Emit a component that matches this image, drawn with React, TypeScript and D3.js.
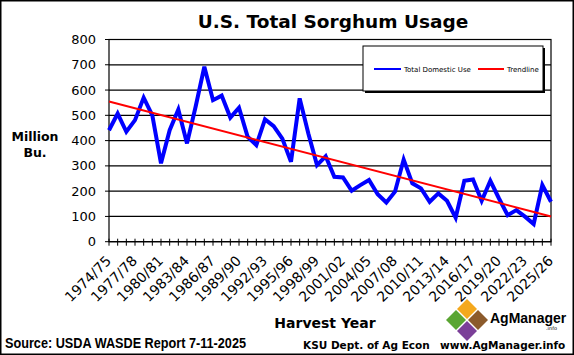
import React from "react";
import * as d3 from "d3";

const years: string[] = [];
for (let y = 1974; y <= 2025; y++) years.push(`${y}/${String((y + 1) % 100).padStart(2, "0")}`);

const usage: number[] = [
  441, 507, 435, 481, 570, 500, 310, 441, 523, 389,
  535, 692, 560, 578, 491, 530, 415, 382, 484, 457,
  408, 316, 567, 428, 303, 338, 257, 254, 202, 224,
  244, 188, 155, 198, 325, 231, 211, 158, 191, 162,
  95, 241, 246, 162, 241, 171, 105, 125, 99, 70,
  224, 158,
];

const yTicks = [0, 100, 200, 300, 400, 500, 600, 700, 800];

const W = 574, H = 355;
const M = { left: 109, right: 551, top: 39.5, bottom: 241.7 };

export default function App() {
  const x = d3.scaleLinear().domain([0, years.length - 1]).range([M.left, M.right]);
  const y = d3.scaleLinear().domain([0, 800]).range([M.bottom, M.top]);

  const line = d3.line<number>().x((_, i) => x(i)).y((d) => y(d));

  // least squares trendline
  const n = usage.length;
  const xs = usage.map((_, i) => i);
  const mx = d3.mean(xs)!, my = d3.mean(usage)!;
  const slope = d3.sum(xs.map((xi, i) => (xi - mx) * (usage[i] - my))) / d3.sum(xs.map((xi) => (xi - mx) ** 2));
  const icpt = my - slope * mx;
  const trend = [icpt, icpt + slope * (n - 1)];

  const font = "'DejaVu Sans', Verdana, sans-serif";
  const lib = "'Liberation Sans', Arial, sans-serif";

  return (
    <svg width={W} height={H} style={{ position: "absolute", left: 0, top: 0, background: "#fff" }}>
      <rect x={0.75} y={0.75} width={W - 1.5} height={H - 1.5} fill="#fff" stroke="#000" strokeWidth={1.5} />
      <text x={333} y={28} textAnchor="middle" fontFamily={font} fontWeight="bold" fontSize={18.5} fill="#000">
        U.S. Total Sorghum Usage
      </text>

      {/* gridlines */}
      {yTicks.map((t) => (
        <line key={t} x1={M.left} x2={M.right} y1={y(t)} y2={y(t)} stroke="#000" strokeWidth={1.2} />
      ))}
      {/* plot border */}
      <rect x={M.left} y={M.top} width={M.right - M.left} height={M.bottom - M.top} fill="none" stroke="#000" strokeWidth={1.2} />

      {/* y ticks */}
      {yTicks.map((t) => (
        <g key={"yt" + t}>
          <line x1={M.left - 4} x2={M.left} y1={y(t)} y2={y(t)} stroke="#000" />
          <text x={96} y={y(t) + 4.5} textAnchor="end" fontFamily={font} fontSize={13} fill="#000">{t}</text>
        </g>
      ))}
      <text x={35} y={141} textAnchor="middle" fontFamily={font} fontWeight="bold" fontSize={12.5}>Million</text>
      <text x={35} y={157} textAnchor="middle" fontFamily={font} fontWeight="bold" fontSize={12.5}>Bu.</text>

      {/* x ticks */}
      {years.map((yr, i) => (
        <line key={"xt" + i} x1={x(i)} x2={x(i)} y1={M.bottom - 3} y2={M.bottom + 4} stroke="#000" />
      ))}
      {years.map((yr, i) =>
        i % 3 === 0 ? (
          <text key={"xl" + i} transform={`translate(${x(i) + 3},${M.bottom + 20}) rotate(-45)`} textAnchor="end"
            fontFamily={font} fontSize={14} fill="#000">{yr}</text>
        ) : null
      )}

      {/* series */}
      <path d={line(usage)!} fill="none" stroke="#0000ff" strokeWidth={4} strokeLinejoin="miter" />
      <line x1={x(0)} y1={y(trend[0])} x2={x(n - 1)} y2={y(trend[1])} stroke="#ff0000" strokeWidth={2} />

      {/* legend */}
      <rect x={365} y={48} width={180} height={45} fill="#000" />
      <rect x={363} y={46} width={180} height={45} fill="#fff" stroke="#000" strokeWidth={1} />
      <line x1={374} x2={401} y1={69} y2={69} stroke="#0000ff" strokeWidth={2} />
      <text x={404} y={71.5} fontFamily={font} fontSize={7} fill="#000">Total Domestic  Use</text>
      <line x1={478} x2={504} y1={69} y2={69} stroke="#ff0000" strokeWidth={2} />
      <text x={507} y={71.5} fontFamily={font} fontSize={7} fill="#000">Trendline</text>

      <text x={325} y={328} textAnchor="middle" fontFamily={font} fontWeight="bold" fontSize={14}>Harvest Year</text>

      {/* logo */}
      <g transform="translate(467,320)">
        <path d="M0,-21 L10,-11 L0,-1 L-10,-11 Z" fill="#f4a81d" />
        <path d="M-11,-10 L-1,0 L-11,10 L-21,0 Z" fill="#5aa532" />
        <path d="M11,-10 L21,0 L11,10 L1,0 Z" fill="#8b5a2b" />
        <path d="M0,1 L10,11 L0,21 L-10,11 Z" fill="#7b3f98" />
      </g>
      <text x={490} y={323} fontFamily={lib} fontWeight="bold" fontSize={14} fill="#000">AgManager</text>
      <text x={546} y={330} fontFamily={font} fontSize={5} fill="#000">.info</text>

      <text x={5} y={348} fontFamily={lib} fontWeight="bold" fontSize={14.5} textLength={241} lengthAdjust="spacingAndGlyphs" fill="#000">
        Source: USDA WASDE Report 7-11-2025
      </text>
      <text x={303} y={349} fontFamily={font} fontWeight="bold" fontSize={10.5} fill="#000">KSU Dept. of Ag Econ</text>
      <text x={440} y={349} fontFamily={font} fontWeight="bold" fontSize={10.5} fill="#000">www.AgManager.info</text>
    </svg>
  );
}
